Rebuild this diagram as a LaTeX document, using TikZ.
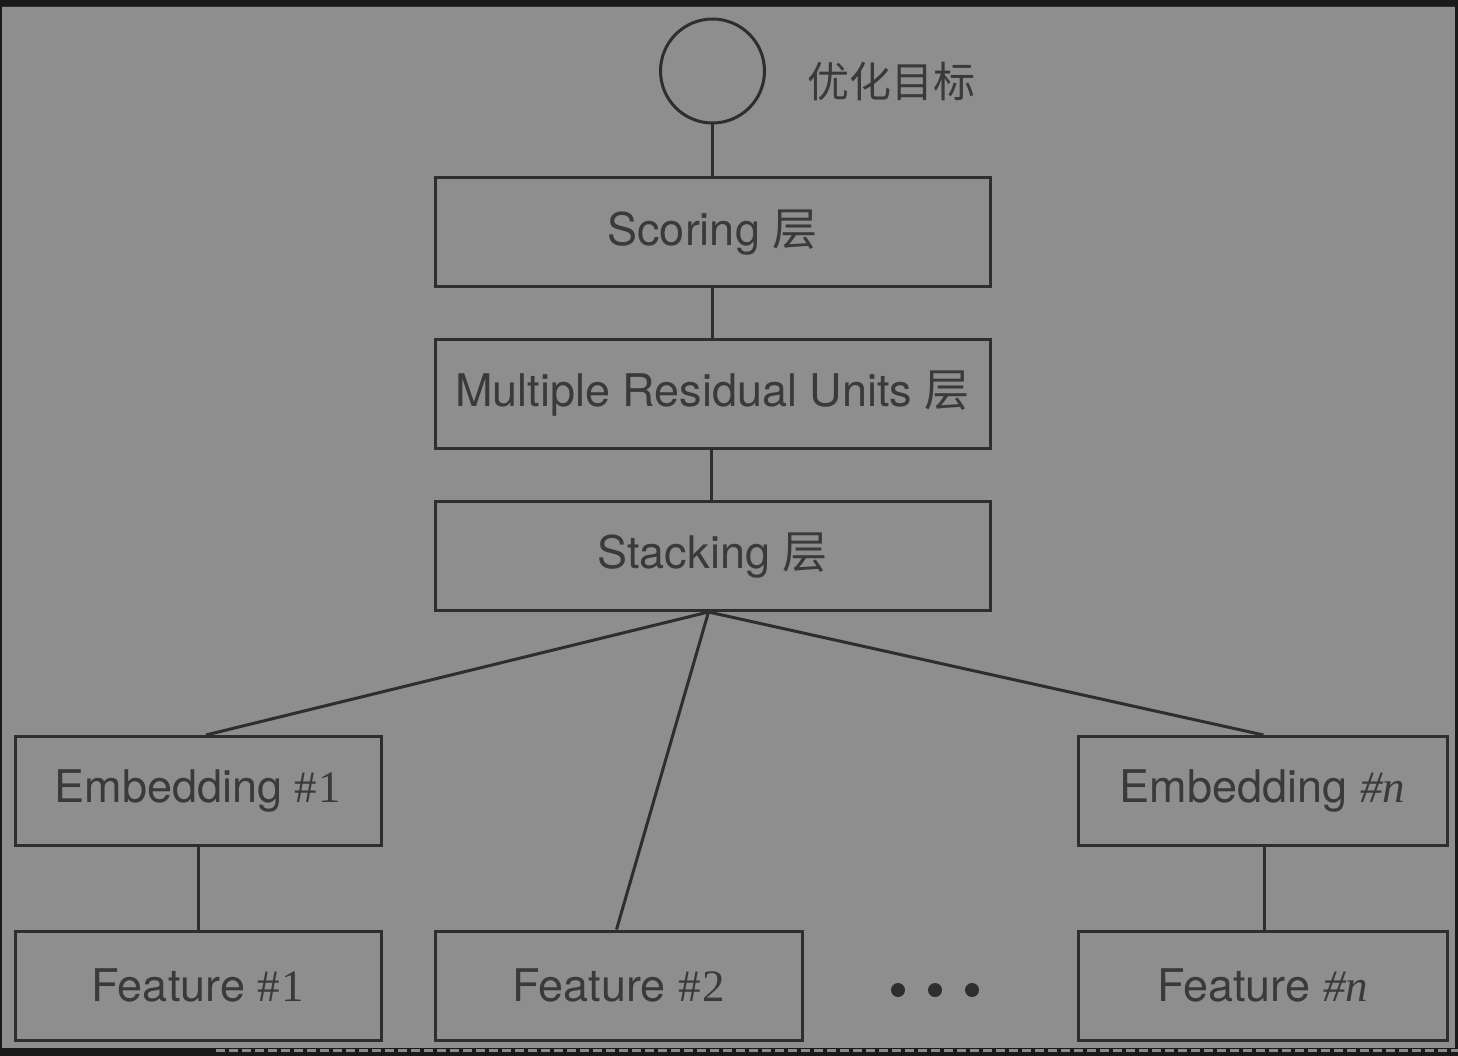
\documentclass[tikz,border=0pt]{standalone}
\usepackage{fontspec}
\setmainfont{TeX Gyre Heros}
\newfontfamily\cjk{Noto Sans CJK SC}
\newfontfamily\serifnum{Liberation Serif}
\definecolor{bgc}{HTML}{8E8E8E}
\definecolor{linec}{HTML}{2E2E2E}
\definecolor{textc}{HTML}{3A3A3A}
\definecolor{darkc}{HTML}{1A1A1A}
\definecolor{dashc}{HTML}{8A8A8A}
\newcommand{\boxfont}{\fontsize{45pt}{52pt}\selectfont}
\newcommand{\hashnum}[1]{{\serifnum\#\kern0.04em #1}}
\newcommand{\hashn}{{\serifnum\itshape\#n}}
\begin{document}
\begin{tikzpicture}[x=1pt,y=-1pt,
  box/.style={draw=linec, line width=3pt, minimum width=555pt, minimum height=109pt, inner sep=0pt, font=\boxfont, text=textc},
  sbox/.style={box, minimum width=367pt},
  link/.style={draw=linec, line width=3pt},
  dotc/.style={fill=linec}]
\useasboundingbox (0,0) rectangle (1458,1056);
\fill[bgc] (0,0) rectangle (1458,1056);
\fill[darkc] (0,0) rectangle (1458,6);
\fill[darkc!80!bgc] (0,6) rectangle (1458,7.5);
\fill[darkc] (0,0) rectangle (1.5,1056);
\fill[darkc] (1455,0) rectangle (1458,1056);
\fill[darkc] (0,1048) rectangle (1458,1056);
\draw[dashc, line width=3.5pt, dash pattern=on 9pt off 4pt] (216,1050.5) -- (1458,1050.5);

\node[draw=linec, line width=3pt, circle, minimum size=104pt, inner sep=0pt] (goal) at (712.5,71) {};
\node[font=\cjk\fontsize{42pt}{48pt}\selectfont, text=textc, inner sep=0pt] (goallabel) at (891.5,82) {优化目标};

\node[box] (score) at (712.5,232.5) {Scoring {\cjk 层}};
\node[box] (mru) at (712.5,394) {Multiple Residual Units {\cjk 层}};
\node[box] (stack) at (712.5,556) {Stacking {\cjk 层}};

\node[sbox, minimum width=366pt] (emb1) at (198,791) {Embedding \hashnum{1}};
\node[sbox, minimum width=369pt] (embn) at (1262.5,791) {Embedding \hashn};
\node[sbox, minimum width=366pt] (feat1) at (198,985.5) {Feature \hashnum{1}};
\node[sbox] (feat2) at (618.5,985.5) {Feature \hashnum{2}};
\node[sbox, minimum width=369pt] (featn) at (1262.5,985.5) {Feature \hashn};

\coordinate (hub) at ([xshift=-4pt]stack.south);
\draw[link] (goal.south) -- (score.north);
\draw[link] (score.south) -- (mru.north);
\draw[link] ([xshift=-1pt]mru.south) -- ([xshift=-1pt]stack.north);
\draw[link] (hub) -- ([xshift=8pt]emb1.north);
\draw[link] (hub) -- ([xshift=-2pt]feat2.north);
\draw[link] (hub) -- ([xshift=1pt]embn.north);
\draw[link] (emb1.south) -- (feat1.north);
\draw[link] ([xshift=2pt]embn.south) -- ([xshift=2pt]featn.north);

\fill[dotc] (898,990) circle (7pt);
\fill[dotc] (935,990) circle (7pt);
\fill[dotc] (972,990) circle (7pt);
\end{tikzpicture}
\end{document}
